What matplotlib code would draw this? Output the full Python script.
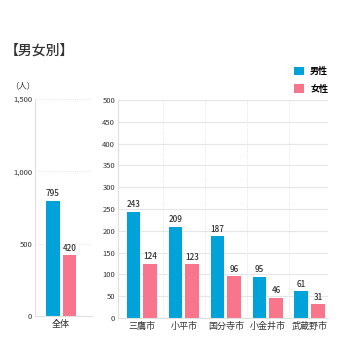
import matplotlib
matplotlib.use('Agg')
import matplotlib.pyplot as plt
import numpy as np

plt.rcParams['font.family'] = ['Noto Sans CJK JP', 'DejaVu Sans']

# data
total_label = ['全体']
total_male = [795]
total_female = [420]

cities = ['三鷹市', '小平市', '国分寺市', '小金井市', '武蔵野市']
city_male = [243, 209, 187, 95, 61]
city_female = [124, 123, 96, 46, 31]

left_ticks = [0, 500, 1000, 1500]
left_ticklabels = ['0', '500', '1,000', '1,500']
right_ticks = list(range(0, 501, 50))

BLUE = '#00A3D9'
PINK = '#F8758B'
TXT = '#333333'
GRID = '#e6e6e6'


def style_axis(ax):
    for side in ['top', 'right']:
        ax.spines[side].set_visible(False)
    for side in ['left', 'bottom']:
        ax.spines[side].set_color('#e0e0e0')
        ax.spines[side].set_linewidth(0.8)
    ax.tick_params(length=0, labelsize=5.5, colors=TXT, pad=2)
    ax.set_axisbelow(True)


def draw_bars(ax, male, female, w=0.33, off=0.2):
    x = np.arange(len(male))
    b1 = ax.bar(x - off, male, width=w, color=BLUE, label='男性')
    b2 = ax.bar(x + off, female, width=w, color=PINK, label='女性')
    for bars in (b1, b2):
        for b in bars:
            ax.text(b.get_x() + b.get_width() / 2, b.get_height() + ax.get_ylim()[1] * 0.012,
                    str(int(b.get_height())), ha='center', va='bottom',
                    fontsize=5.8, color=TXT, fontweight='medium')
    return x


fig = plt.figure(figsize=(3.38, 3.38), dpi=100)

# left panel (total)
ax1 = fig.add_axes([0.1036, 0.0651, 0.169, 0.642])
ax1.set_ylim(0, 1500)
ax1.set_xlim(-0.62, 0.74)
style_axis(ax1)
ax1.set_yticks(left_ticks)
ax1.set_yticklabels(left_ticklabels)
ax1.yaxis.grid(True, color='#dddddd', linestyle=(0, (1, 1.5)), linewidth=0.6)
x1 = draw_bars(ax1, total_male, total_female)
ax1.set_xticks(x1)
ax1.set_xticklabels(total_label, fontsize=6.5)
ax1.tick_params(axis='x', pad=3)

# right panel (cities)
ax2 = fig.add_axes([0.349, 0.0592, 0.621, 0.645])
ax2.set_ylim(0, 500)
ax2.set_xlim(-0.571, 4.43)
style_axis(ax2)
ax2.set_yticks(right_ticks)
ax2.yaxis.grid(True, color=GRID, linewidth=0.8)
x2 = draw_bars(ax2, city_male, city_female)
for v in np.arange(len(cities) - 1) + 0.5:
    ax2.axvline(v, color='#dddddd', linestyle=(0, (1, 1.5)), linewidth=0.6, zorder=0)
ax2.set_xticks(x2)
ax2.set_xticklabels(cities, fontsize=6.5)
ax2.tick_params(axis='x', pad=3)

ax2.legend(loc='upper right', bbox_to_anchor=(1.04, 1.19), frameon=False,
           handlelength=1.1, handleheight=1.1, handletextpad=0.7,
           labelspacing=0.9, prop={'weight': 'bold', 'size': 6.5})

fig.text(0.014, 0.85, '【男女別】', fontsize=10, fontweight='medium', color=TXT,
         va='center', ha='left')
fig.text(0.03, 0.745, '（人）', fontsize=6, color=TXT, va='center', ha='left')

fig.savefig('out.png', dpi=100)
